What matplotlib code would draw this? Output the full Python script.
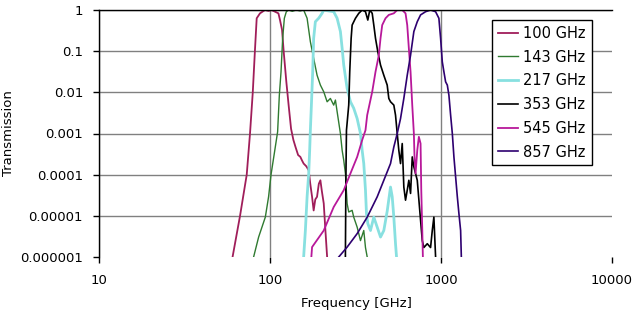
import numpy as np
import matplotlib
matplotlib.use("Agg")
import matplotlib.pyplot as plt

plt.rcParams['font.family'] = ['DejaVu Sans']

# filter transmission curves (frequency in GHz)
f_100 = [60.4, 66.8, 73.1, 76.4, 79.3, 81.6, 83.6, 87.4, 93.5, 98, 102, 107, 112, 114.4,
         117.6, 120.2, 124.6, 128.5, 132.8, 137, 141, 146, 150.5, 154, 157.3, 163, 168.4,
         172, 176.2, 180, 184, 188.4, 193, 197.1, 201, 206.2, 210.9, 215.8]
t_100 = [1e-6, 1e-5, 1e-4, 1e-3, 0.01, 0.1, 0.63, 0.83, 1.0, 0.95, 1.0, 0.91, 0.83, 0.57,
         0.33, 0.1, 0.018, 0.0049, 0.0013, 7e-4, 4.7e-4, 3e-4, 2.7e-4, 2.2e-4, 1.86e-4, 1.6e-4, 1.28e-4,
         6e-5, 2.9e-5, 1.35e-5, 2.5e-5, 2.9e-5, 6e-5, 7.3e-5, 4e-5, 2e-5, 4.4e-6, 1e-6]

f_143 = [80.2, 85.8, 93.9, 98.1, 101.4, 106.0, 110.8, 113.4, 116.0, 118.6, 121.3, 124.6,
         128.5, 135, 142, 150, 157.3, 164.8, 172.2, 180.0, 188.5, 197.1, 206.2, 215.8, 225.5,
         235.8, 241.3, 246.9, 258.1, 264.2, 269.9, 276.1, 282.5, 288.7, 302.2, 308.8, 323.4,
         338.1, 353.5, 361.7, 370.2]
t_143 = [1e-6, 3.05e-6, 9.3e-6, 2.9e-5, 1e-4, 3.3e-4, 1.1e-3, 8.5e-3, 0.0315, 0.205, 0.63, 0.91,
         1.0, 0.93, 1.0, 0.95, 1.0, 0.63, 0.17, 0.067, 0.026, 0.015, 0.0103, 0.0059, 0.0071,
         0.0049, 0.0065, 0.0034, 0.001, 3.9e-4, 2.24e-4, 1.06e-4, 1.98e-5, 1.24e-5, 1.36e-5, 9.3e-6, 5.3e-6,
         2.5e-6, 4.4e-6, 1.7e-6, 1e-6]

f_217 = [157.3, 161, 164.8, 168.4, 170.6, 172.2, 174.6, 177.7, 180, 184.2, 192.6, 201.6,
         206.2, 220, 235.8, 246.9, 258.1, 264.2, 269.9, 282.5, 295.4, 308.8, 323.4, 338.1,
         345.9, 353.5, 361.7, 366.6, 373.2, 386.9, 404.6, 423.6, 442.9, 463, 484.6, 506.7,
         518.5, 529.8, 542, 549.5]
t_217 = [1e-6, 4.4e-6, 2.9e-5, 1.07e-4, 3.9e-4, 1.2e-3, 4.9e-3, 0.0315, 0.205, 0.52, 0.63, 0.83,
         1.0, 0.95, 0.91, 0.63, 0.30, 0.117, 0.046, 0.0124, 0.0059, 0.0041, 0.0023, 1e-3,
         3.9e-4, 1.86e-4, 4.2e-5, 1.13e-5, 6.5e-6, 4.4e-6, 9.3e-6, 5.3e-6, 3.05e-6, 4.4e-6, 1.3e-5, 5e-5,
         2.9e-5, 9.3e-6, 2.1e-6, 1e-6]

f_353 = [276, 278, 280, 288.7, 292.6, 298.2, 302.2, 316.1, 330.4, 345.9, 361.7, 373.2, 383.4,
         396.0, 404.6, 414, 427.0, 442.9, 463.0, 484.6, 495.2, 506.7, 529.8, 542.0, 554.6, 566.7,
         579.8, 593.3, 606.2, 620.3, 634.7, 648.6, 663.7, 679.0, 693.9, 726.4, 759.5, 777.2,
         794.1, 831.3, 869.0, 889.2, 908.6, 929.7]
t_353 = [1e-6, 1e-4, 1.2e-3, 4.9e-3, 0.0315, 0.205, 0.43, 0.63, 0.83, 1.0, 0.91, 0.57, 1.0,
         0.83, 0.43, 0.205, 0.097, 0.046, 0.026, 0.015, 0.0071, 0.0059, 0.0049, 0.0028, 1e-3, 3.9e-4,
         1.86e-4, 5.7e-4, 5e-5, 2.4e-5, 4.2e-5, 7.3e-5, 3.5e-5, 2.7e-4, 1.55e-4, 7.3e-5, 7.8e-6, 2.5e-6,
         1.7e-6, 2.1e-6, 1.7e-6, 4.4e-6, 9.3e-6, 1e-6]

f_545 = [174.5, 176.2, 206.2, 235.8, 269.9, 295.4, 323.4, 345.9, 361.7, 370.2, 396, 414,
         432.9, 442.9, 453.1, 473.8, 495.2, 529.8, 554.6, 593.3, 620.3, 634.7, 648.6, 663.7,
         679, 693.9, 700, 710, 726.4, 742.2, 759.5, 766.7, 777.2, 783.5]
t_545 = [1e-6, 1.74e-6, 4.4e-6, 1.64e-5, 4.2e-5, 1.07e-4, 2.7e-4, 6.9e-4, 1.2e-3, 2.8e-3, 0.0103, 0.0315,
         0.080, 0.205, 0.43, 0.63, 0.76, 0.83, 1.0, 1.0, 0.83, 0.43, 0.117, 0.0315,
         0.0049, 1e-3, 2.7e-4, 1.07e-4, 3.9e-4, 8.3e-4, 5.7e-4, 4.2e-5, 4.4e-6, 1e-6]

f_857 = [252.3, 282.5, 323.4, 370.2, 423.6, 463, 506.7, 529.8, 554.6, 579.8, 606.2, 634.7,
         663.7, 693.9, 726.4, 759.5, 812.7, 869, 929.7, 971.9, 994.7, 1017.6, 1040, 1064,
         1088.7, 1112.5, 1138.2, 1164.7, 1190, 1245.9, 1273, 1302.4, 1315]
t_857 = [1e-6, 1.74e-6, 3.7e-6, 9.3e-6, 2.9e-5, 7.3e-5, 1.86e-4, 4.7e-4, 1e-3, 2.3e-3, 7.1e-3, 0.026,
         0.080, 0.30, 0.52, 0.76, 0.91, 1.0, 0.91, 0.63, 0.205, 0.055, 0.0315, 0.018,
         0.015, 0.0085, 2.8e-3, 1e-3, 2.7e-4, 2.9e-5, 1.13e-5, 4.4e-6, 1e-6]

labels = ['100 GHz', '143 GHz', '217 GHz', '353 GHz', '545 GHz', '857 GHz']
colors = ['#A01E5A', '#2F7A30', '#88E0E0', '#000000', '#B8189A', '#2E0070']
widths = [1.3, 1.0, 2.0, 1.2, 1.3, 1.2]
freqs = [f_100, f_143, f_217, f_353, f_545, f_857]
trans = [t_100, t_143, t_217, t_353, t_545, t_857]

y_ticks = [1e-6, 1e-5, 1e-4, 1e-3, 1e-2, 1e-1, 1]
y_ticklabels = ['0.000001', '0.00001', '0.0001', '0.001', '0.01', '0.1', '1']
x_ticks = [10, 100, 1000, 10000]
x_ticklabels = ['10', '100', '1000', '10000']

fig = plt.figure(figsize=(6.38, 3.19), dpi=100)
ax = fig.add_axes([99 / 638, 1 - 257 / 319, 513 / 638, 247 / 319])

for i in range(len(labels)):
    ax.plot(freqs[i], trans[i], color=colors[i], lw=widths[i], label=labels[i])

ax.set_xscale('log')
ax.set_yscale('log')
ax.set_xlim(10, 10000)
ax.set_ylim(1e-6, 1)
ax.set_xticks(x_ticks)
ax.set_xticklabels(x_ticklabels)
ax.set_yticks(y_ticks)
ax.set_yticklabels(y_ticklabels)
ax.minorticks_off()

ax.grid(True, color='#808080', lw=1.0)
ax.xaxis.get_gridlines()[-1].set_visible(False)
ax.yaxis.get_gridlines()[0].set_visible(False)

for s in ['right', 'bottom']:
    ax.spines[s].set_visible(False)
ax.spines['top'].set_linewidth(1.0)
ax.spines['left'].set_linewidth(1.0)
ax.tick_params(axis='y', length=4.5, width=1.0, pad=7, labelsize=9.5)
ax.tick_params(axis='x', length=4, width=1.0, pad=8, labelsize=9.5)

ax.set_xlabel('Frequency [GHz]', fontsize=9.5)
ax.set_ylabel('Transmission', fontsize=9.5)
ax.xaxis.set_label_coords(356 / 638, 1 - 303 / 319, transform=fig.transFigure)
ax.yaxis.set_label_coords(9 / 638, 1 - 133 / 319, transform=fig.transFigure)
ax.xaxis.label.set_va('center')
ax.yaxis.label.set_va('center')

leg = ax.legend(loc='upper left', bbox_to_anchor=(492 / 638, 1 - 20 / 319),
                bbox_transform=fig.transFigure, borderaxespad=0, fontsize=10.5,
                handlelength=1.4, handletextpad=0.35, labelspacing=0.6,
                borderpad=0.4, fancybox=False, framealpha=1)
leg.get_frame().set_edgecolor('black')
leg.get_frame().set_linewidth(1.0)

fig.savefig('out.png', dpi=100)
